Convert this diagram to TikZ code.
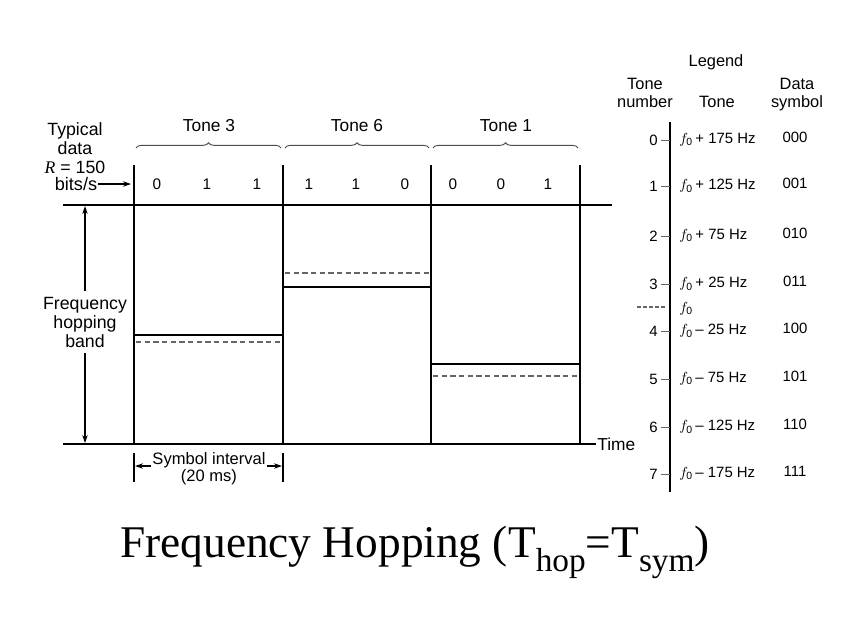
\documentclass[tikz,border=0pt]{standalone}
\usepackage{fontspec}
\setmainfont{Liberation Serif}
\setsansfont{Liberation Sans}
\usetikzlibrary{arrows.meta,decorations.pathreplacing}
\newcommand{\fz}[2]{\fontsize{#1}{#2}\selectfont}
\newcommand{\fo}{$f_{\mathsf{0}}$}
\begin{document}
\begin{tikzpicture}[x=0.75pt,y=-0.75pt,
  every node/.style={inner sep=0pt, outer sep=1pt},
  slotline/.style={line width=2.2pt},
  thinline/.style={line width=0.8pt},
  baseline/.style={line width=1.3pt},
  toneline/.style={line width=1.3pt},
  tonedashed/.style={dashed, dash pattern=on 4pt off 2.5pt, line width=1pt, black!60},
  bracestyle/.style={decorate, decoration={brace, amplitude=4pt}, line width=0.7pt, black!70},
  arr/.style={-{Stealth[length=6pt,width=4pt]}, line width=0.8pt},
  bit/.style={font=\sffamily\fz{11.5}{13}},
  leg/.style={font=\sffamily\fz{11.2}{13}},
  legh/.style={font=\sffamily\fz{12.3}{13.5}, align=center}
]
\useasboundingbox (0,0) rectangle (848,636);

% slot boundaries
\foreach \i/\x in {0/134,1/283,2/431,3/580}{
  \coordinate (t\i) at (\x,165);
  \coordinate (b\i) at (\x,444);
  \draw[slotline] (t\i) -- (b\i);
}
% horizontal rules
\coordinate (hl) at (63,205); \coordinate (hr) at (612,205);
\draw[thinline] (hl) -- (hr);
\node[font=\sffamily\fz{13}{13}, anchor=west] (time) at (596,444) {Time};
\coordinate (bl) at (63,444);
\draw[thinline] (bl) -- (b0);
\draw[baseline] (b0) -- (b3);
\draw[thinline] (b3) -- (time.west);

% left labels
\node[font=\sffamily\fz{13.3}{14.2}, align=center] (typ) at (75,148) {Typical\\data\\{\rmfamily\itshape R} = 150};
\node[font=\sffamily\fz{13.6}{13}] (bits) at (76,184) {bits/s};
\coordinate (rin) at (131,184);
\draw[arr] (bits.east) -- (rin);

\node[font=\sffamily\fz{13.3}{14.25}, align=center, outer sep=4pt] (fhb) at (85,322) {Frequency\\hopping\\band};
\coordinate (fbtop) at (85,206); \coordinate (fbbot) at (85,443);
\draw[arr] (fhb.north) -- (fbtop);
\draw[arr] (fhb.south) -- (fbbot);

% bits
\foreach \x/\b [count=\k] in {157/0,207/1,257/1,309/1,356/1,405/0,453/0,501/0,548/1}{
  \node[bit] (bit\k) at (\x,184) {\b};
}

% tone labels and braces
\node[font=\sffamily\fz{13}{13}] (tn3) at (209,126) {Tone 3};
\node[font=\sffamily\fz{13}{13}] (tn6) at (357,126) {Tone 6};
\node[font=\sffamily\fz{13}{13}] (tn1) at (506,126) {Tone 1};
\draw[bracestyle] (136,148) -- (281,148);
\draw[bracestyle] (285,148) -- (429,148);
\draw[bracestyle] (433,148) -- (578,148);

% tone lines
\draw[toneline] (134,335) -- (283,335);
\draw[tonedashed] (136,342) -- (281,342);
\draw[toneline] (283,287) -- (431,287);
\draw[tonedashed] (285,273) -- (429,273);
\draw[toneline] (431,364) -- (580,364);
\draw[tonedashed] (433,376) -- (578,376);

% symbol interval
\coordinate (sit0) at (134,453); \coordinate (sib0) at (134,482);
\coordinate (sit1) at (283,453); \coordinate (sib1) at (283,482);
\draw[thinline] (sit0) -- (sib0);
\draw[thinline] (sit1) -- (sib1);
\node[font=\sffamily\fz{12.4}{12.75}, align=center] (si) at (209,469) {Symbol interval\\(20 ms)};
\coordinate (sil) at (135,466); \coordinate (sir) at (282,466);
\draw[arr] (si.west |- sil) -- (sil);
\draw[arr] (si.east |- sir) -- (sir);

% legend
\node[legh] (lgd) at (716,62) {Legend};
\node[legh] (lgtn) at (645,93) {Tone\\number};
\node[legh] (lgt) at (717,102) {Tone};
\node[legh] (lgds) at (797,95) {Data\\symbol};
\coordinate (axt) at (670,122); \coordinate (axb) at (670,492);
\draw[line width=1.3pt] (axt) -- (axb);
\foreach \i/\y/\tone/\sym in {0/140/+ 175/000,1/186/+ 125/001,2/236/+ 75/010,3/284/+ 25/011,4/331/-- 25/100,5/379/-- 75/101,6/427/-- 125/110,7/474/-- 175/111}{
  \coordinate (tk\i) at (661,\y);
  \draw[line width=0.7pt, black!60] (tk\i) -- (670,\y);
  \node[leg, anchor=east] (num\i) at (659,\y) {\i};
  \node[leg, anchor=west] (tone\i) at (678,\y) {\fo\,\tone\ Hz};
  \node[leg] (sym\i) at (795,\y-3) {\sym};
}
\coordinate (fdl) at (637,307); \coordinate (fdr) at (667,307);
\draw[tonedashed, dash pattern=on 3pt off 1.5pt] (fdl) -- (fdr);
\node[leg, anchor=west] (f0) at (678,309) {\fo};

% title
\node[font=\rmfamily\fz{34}{40}, anchor=base] (title) at (415,557) {Frequency Hopping (T\raisebox{-0.32em}{\fz{25}{30}hop}=T\raisebox{-0.32em}{\fz{25}{30}sym})};
\end{tikzpicture}
\end{document}
